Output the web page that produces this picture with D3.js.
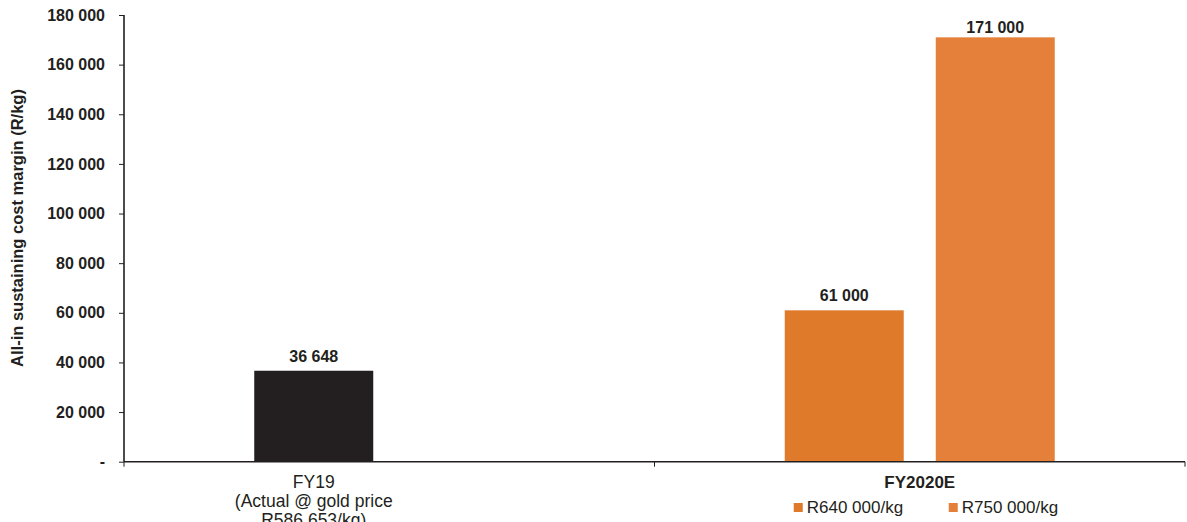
<!DOCTYPE html>
<html>
<head>
<meta charset="utf-8">
<script src="https://cdn.jsdelivr.net/npm/d3@7"></script>
<style>
  html, body { margin: 0; padding: 0; background: #fff; }
  svg { display: block; font-family: Arial, "Liberation Sans", sans-serif; }
</style>
</head>
<body>
<svg id="chart" width="1187" height="522"></svg>
<script>
// Categories and series
const categories = ["FY19", "FY2020E"];
const seriesNames = ["R640 000/kg", "R750 000/kg"];
const fy19Values = [36648];
const fy2020eValues = [61000, 171000];
const yTicks = [0, 20000, 40000, 60000, 80000, 100000, 120000, 140000, 160000, 180000];
const fy19Label = ["FY19", "(Actual @ gold price", "R586 653/kg)"];
const yTitle = "All-in sustaining cost margin (R/kg)";

const ink = "#231f20";
const fy19Color = "#231f20";
const seriesColors = ["#e07a2b", "#e5803a"];

const svg = d3.select("#chart");
const margin = { left: 124, right: 2, top: 15, bottom: 60 };
const W = 1187, H = 522;

const x = d3.scaleBand().domain(categories).range([margin.left, W - margin.right]);
const slot = d3.scaleBand().domain([0, 1]).range([0, x.bandwidth()])
  .paddingInner(0.212).paddingOuter(0.8625);
const y = d3.scaleLinear().domain([0, 180000]).range([H - margin.bottom - 0.3, margin.top]);

const loc = d3.formatLocale({ decimal: ".", thousands: " ", grouping: [3], currency: ["", ""] });
const fmt = loc.format(",");
const tickFmt = v => v === 0 ? "-" : fmt(v);

// Bar records built from the arrays above
const bars = [
  ...fy19Values.map((v, i) => ({ cat: "FY19", slot: i, value: v, color: fy19Color })),
  ...fy2020eValues.map((v, i) => ({ cat: "FY2020E", slot: i, value: v, color: seriesColors[i] }))
];

svg.selectAll("rect.bar").data(bars).join("rect")
  .attr("class", "bar")
  .attr("x", d => x(d.cat) + slot(d.slot))
  .attr("width", slot.bandwidth())
  .attr("y", d => y(d.value))
  .attr("height", d => y(0) - y(d.value))
  .attr("fill", d => d.color);

// Value labels
svg.selectAll("text.val").data(bars).join("text")
  .attr("class", "val")
  .attr("x", d => x(d.cat) + slot(d.slot) + slot.bandwidth() / 2)
  .attr("y", d => Math.max(y(d.value) - 9, 33))
  .attr("text-anchor", "middle")
  .attr("font-size", 16).attr("font-weight", "bold").attr("fill", ink)
  .text(d => fmt(d.value));

// Y axis
const yAxis = d3.axisLeft(y).tickValues(yTicks).tickFormat(tickFmt).tickSize(5).tickPadding(14);
const gy = svg.append("g").attr("transform", `translate(${margin.left},0)`).call(yAxis);
gy.select(".domain").attr("stroke", ink).attr("stroke-width", 1.6).attr("d", `M0,${y(180000)}V${y(0)}`);
gy.selectAll(".tick line").attr("stroke", ink).attr("stroke-width", 1);
gy.selectAll(".tick text").attr("font-size", 16).attr("font-weight", "bold").attr("fill", ink)
  .attr("font-family", "Arial, 'Liberation Sans', sans-serif");

// X axis with category boundary ticks
const gx = svg.append("g").attr("transform", `translate(0,${y(0)})`);
gx.append("line").attr("x1", margin.left).attr("x2", W - margin.right)
  .attr("stroke", ink).attr("stroke-width", 1.6);
const bounds = [margin.left, ...categories.map(c => x(c) + x.bandwidth())];
gx.selectAll("line.bt").data(bounds).join("line").attr("class", "bt")
  .attr("x1", d => d).attr("x2", d => d).attr("y1", 0).attr("y2", 5)
  .attr("stroke", ink).attr("stroke-width", 1);

// FY19 category label, centred under its bar
const fy19Cx = x("FY19") + slot(0) + slot.bandwidth() / 2;
svg.append("text").attr("text-anchor", "middle").attr("font-size", 17.5).attr("fill", ink)
  .selectAll("tspan").data(fy19Label).join("tspan")
  .attr("x", fy19Cx).attr("y", (d, i) => 488 + i * 19).text(d => d);

// FY2020E category label
svg.append("text").attr("x", x("FY2020E") + x.bandwidth() / 2).attr("y", 488)
  .attr("text-anchor", "middle").attr("font-size", 17).attr("font-weight", "bold").attr("fill", ink)
  .text("FY2020E");

// Series legend under FY2020E
const lg = svg.selectAll("g.lg").data(seriesNames).join("g").attr("class", "lg")
  .attr("transform", (d, i) => `translate(${x("FY2020E") + slot(0) + 9 + i * 155},503)`);
lg.append("rect").attr("width", 9).attr("height", 9).attr("fill", (d, i) => seriesColors[i]);
lg.append("text").attr("x", 13).attr("y", 10).attr("font-size", 17).attr("fill", ink).text(d => d);

// Y axis title
svg.append("text")
  .attr("transform", `translate(23,228) rotate(-90)`)
  .attr("text-anchor", "middle").attr("font-size", 16.5).attr("font-weight", "bold").attr("fill", ink)
  .text(yTitle);
</script>
</body>
</html>
